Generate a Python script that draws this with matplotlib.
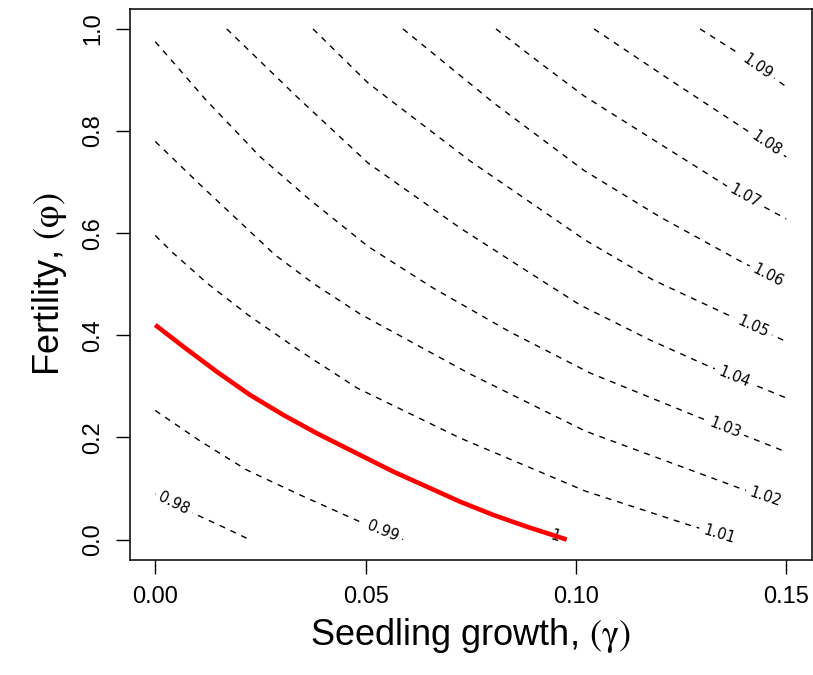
import numpy as np
import matplotlib
matplotlib.use("Agg")
import matplotlib.pyplot as plt

plt.rcParams['font.family'] = ['Liberation Sans', 'DejaVu Sans']
plt.rcParams['mathtext.fontset'] = 'stix'

# ---- data: contour lines of the growth rate (gamma, phi) ----
levels = ["0.98", "0.99", "1.01", "1.02", "1.03", "1.04", "1.05", "1.06", "1.07", "1.08", "1.09"]

c098_g = [0.0, 0.00447, 0.00906, 0.01612, 0.02241]
c098_p = [0.0893, 0.0707, 0.0515, 0.0247, 0.0]

c099_g = [0.0, 0.01065, 0.02175, 0.03442, 0.04947, 0.05415, 0.0589]
c099_p = [0.2528, 0.1931, 0.1363, 0.0874, 0.0319, 0.0159, 0.0]

c101_g = [0.0, 0.00423, 0.01255, 0.02206, 0.03442, 0.04797, 0.07245, 0.10216, 0.12760, 0.13829]
c101_p = [0.59558, 0.56130, 0.50059, 0.43988, 0.36937, 0.29690, 0.19898, 0.09518, 0.02664, 0.0]

c102_g = [0.0, 0.01065, 0.02848, 0.03775, 0.04868, 0.07483, 0.10216, 0.13877, 0.15]
c102_p = [0.77967, 0.69506, 0.55738, 0.50059, 0.44183, 0.32432, 0.21269, 0.10106, 0.06972]

c103_g = [0.0, 0.01184, 0.02491, 0.03680, 0.05065, 0.06603, 0.08434, 0.10335, 0.12902, 0.15]
c103_p = [0.97513, 0.86291, 0.74991, 0.66510, 0.57364, 0.49275, 0.40658, 0.32628, 0.24011, 0.17156]

c104_g = [0.01700, 0.03371, 0.05065, 0.07245, 0.09425, 0.10097, 0.11761, 0.13140, 0.15]
c104_p = [1.0, 0.86682, 0.73697, 0.61026, 0.49471, 0.45946, 0.39091, 0.33999, 0.27732]

c105_g = [0.03751, 0.05065, 0.07483, 0.10216, 0.11833, 0.13615, 0.15]
c105_p = [1.0, 0.89365, 0.74148, 0.58676, 0.50842, 0.43988, 0.38797]

c106_g = [0.0589, 0.08077, 0.10193, 0.11999, 0.13901, 0.15]
c106_p = [1.0, 0.85311, 0.72288, 0.63181, 0.54563, 0.49863]

c107_g = [0.0810, 0.09147, 0.10193, 0.11999, 0.13734, 0.15]
c107_p = [1.0, 0.93341, 0.86878, 0.77477, 0.68468, 0.62789]

c108_g = [0.10430, 0.12237, 0.13972, 0.15]
c108_p = [1.0, 0.90012, 0.80611, 0.74931]

c109_g = [0.12950, 0.13853, 0.15]
c109_p = [1.0, 0.95300, 0.88700]

# lambda = 1 contour (highlighted in red)
c100_g = [0.0, 0.00668, 0.01462, 0.02253, 0.03045, 0.03839, 0.04630, 0.05660,
          0.06454, 0.07245, 0.08037, 0.08831, 0.09781]
c100_p = [0.42029, 0.37779, 0.32883, 0.28320, 0.24403, 0.20819, 0.17548, 0.13298,
          0.10360, 0.07423, 0.04818, 0.02526, 0.0]

# gamma position of each contour label
label_g = [0.00447, 0.05415, 0.13401, 0.14512, 0.13544, 0.13758, 0.14210,
           0.14566, 0.14020, 0.14535, 0.14305]
label_g_red = 0.09503

xticks = [0.0, 0.05, 0.10, 0.15]
xtick_labels = ["0.00", "0.05", "0.10", "0.15"]
yticks = [0.0, 0.2, 0.4, 0.6, 0.8, 1.0]
ytick_labels = ["0.0", "0.2", "0.4", "0.6", "0.8", "1.0"]

contours_g = [c098_g, c099_g, c101_g, c102_g, c103_g, c104_g, c105_g, c106_g, c107_g, c108_g, c109_g]
contours_p = [c098_p, c099_p, c101_p, c102_p, c103_p, c104_p, c105_p, c106_p, c107_p, c108_p, c109_p]

# ---- figure ----
W, H = 813, 675
fig = plt.figure(figsize=(W / 100, H / 100), dpi=100)
ax = fig.add_axes([130 / W, (H - 560) / H, 681.5 / W, 551.5 / H])
ax.set_xlim(-0.006, 0.156)
ax.set_ylim(-0.04, 1.04)


def add_label(gs, ps, g0, txt, z):
    p0 = np.interp(g0, gs, ps)
    dg = 0.004
    g1, g2 = max(g0 - dg, gs[0]), min(g0 + dg, gs[-1])
    p1, p2 = np.interp([g1, g2], gs, ps)
    (x1, y1), (x2, y2) = ax.transData.transform([(g1, p1), (g2, p2)])
    ang = np.degrees(np.arctan2(y2 - y1, x2 - x1))
    ax.text(g0, p0, txt, rotation=ang, rotation_mode='anchor', ha='center', va='center',
            fontsize=10.5, family='DejaVu Sans', color='black', zorder=z,
            bbox=dict(boxstyle='square,pad=0.3', fc='white', ec='none'))


for gs, ps, lab, lg in zip(contours_g, contours_p, levels, label_g):
    ax.plot(gs, ps, color='black', lw=1.0, dashes=(4.3, 4.3), zorder=2)
    add_label(gs, ps, lg, lab, 3)

add_label(c100_g, c100_p, label_g_red, "1", 3)
ax.plot(c100_g, c100_p, color='red', lw=3.3, solid_capstyle='butt', zorder=4)

ax.set_xticks(xticks)
ax.set_xticklabels(xtick_labels)
ax.set_yticks(yticks)
ax.set_yticklabels(ytick_labels, rotation=90, va='center')
ax.tick_params(direction='out', length=10.4, width=1.0, labelsize=17, pad=8, color='black')
for s in ax.spines.values():
    s.set_linewidth(1.1)

ax.set_xlabel(r'Seedling growth, $(\mathrm{\gamma})$', fontsize=26, labelpad=6)
ax.set_ylabel(r'Fertility, $(\mathrm{\varphi})$', fontsize=26, labelpad=10)

fig.savefig("out.png", dpi=100)
